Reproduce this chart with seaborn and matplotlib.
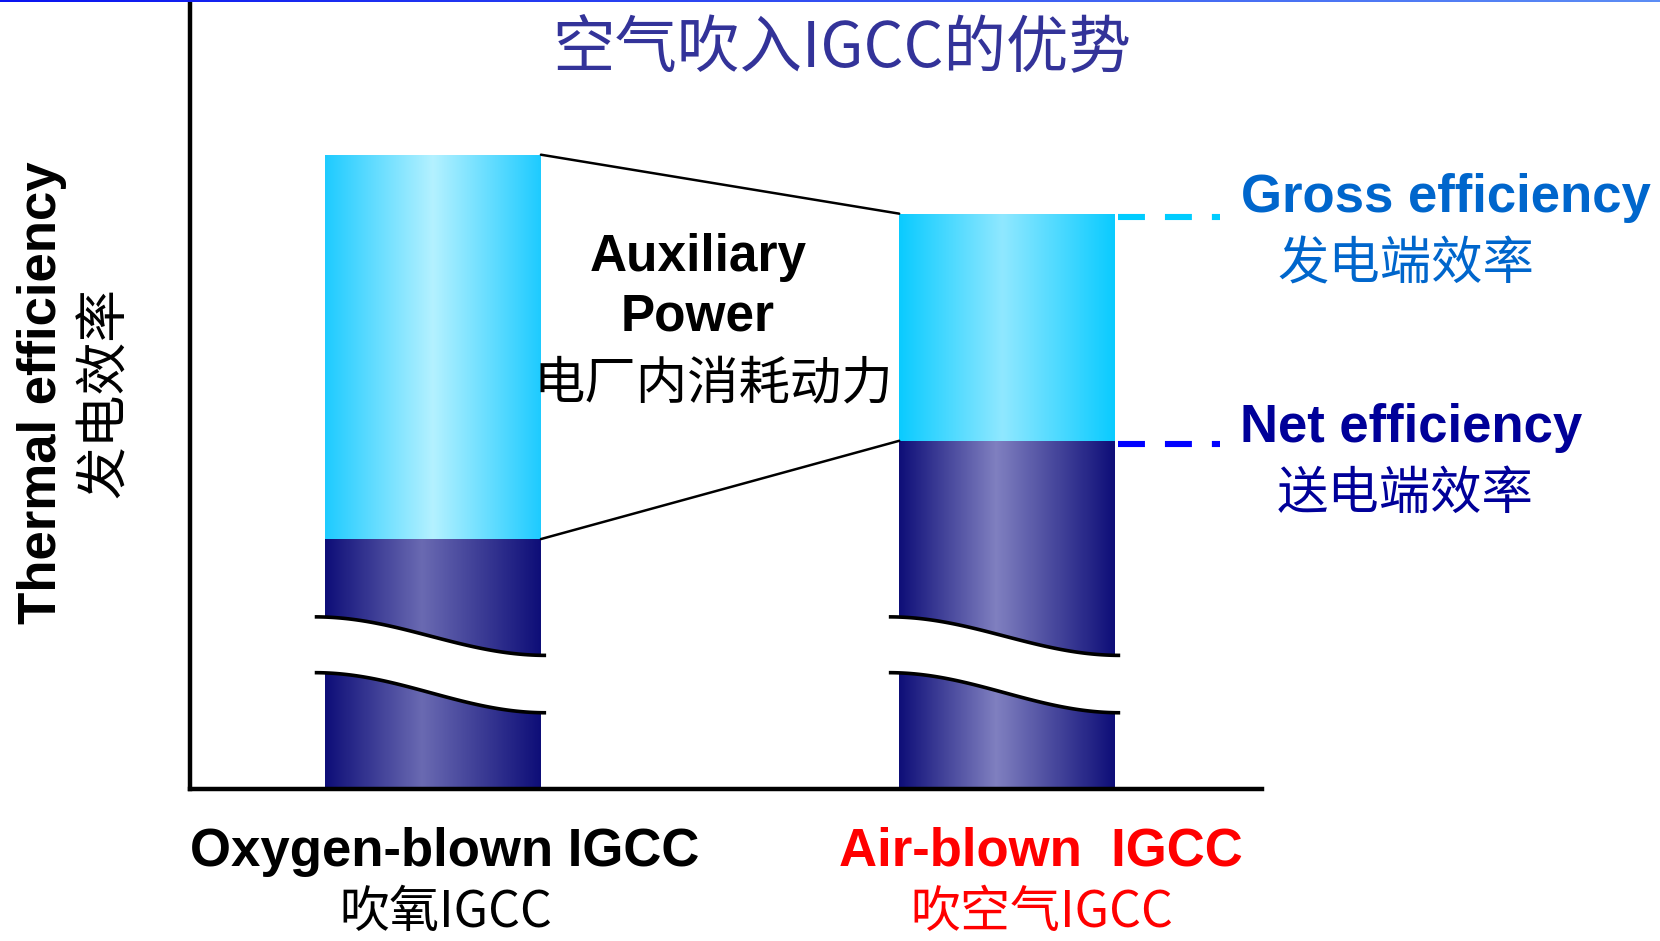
import numpy as np
import matplotlib
matplotlib.use("Agg")
import matplotlib.pyplot as plt
import matplotlib.transforms as mtransforms
from matplotlib.colors import LinearSegmentedColormap
import seaborn as sns

# Schematic efficiency levels (arbitrary units, axis runs 0-100)
categories = ["Oxygen-blown IGCC", "Air-blown IGCC"]
gross_efficiency = [80.7, 73.2]
net_efficiency = [31.8, 44.3]

title_text = "空气吹入IGCC的优势"
ylabel_en = "Thermal efficiency"
ylabel_cn = "发电效率"
aux_en = ["Auxiliary", "Power"]
aux_cn = "电厂内消耗动力"
gross_en, gross_cn = "Gross efficiency", "发电端效率"
net_en, net_cn = "Net efficiency", "送电端效率"
cat_cn = ["吹氧IGCC", "吹空气IGCC"]

sns.set_style("white")
plt.rcParams["lines.scale_dashes"] = False
plt.rcParams["text.color"] = "black"
CJK = ["Noto Sans CJK SC", "DejaVu Sans"]
LAT = ["Liberation Sans", "DejaVu Sans"]

W, H = 1660, 941
fig = plt.figure(figsize=(W / 100, H / 100), dpi=100)
fx = lambda px: px / W
fy = lambda py: 1 - py / H

ax = fig.add_axes([fx(190), fy(789), fx(1262) - fx(190), fy(3) - fy(789)])

bar_w = 0.376
sns.barplot(x=categories, y=gross_efficiency, width=bar_w, color="#00CCFF",
            ax=ax, zorder=2)
n0 = len(ax.patches)
sns.barplot(x=categories, y=net_efficiency, width=bar_w, color="#10107A",
            ax=ax, zorder=3)
gross_patches = ax.patches[:n0]
net_patches = ax.patches[n0:]

def h_gradient(patch, stops, zorder):
    x0, y0 = patch.get_x(), patch.get_y()
    w, h = patch.get_width(), patch.get_height()
    cmap = LinearSegmentedColormap.from_list("g", stops)
    grad = np.linspace(0, 1, 256).reshape(1, -1)
    im = ax.imshow(grad, cmap=cmap, extent=[x0, x0 + w, y0, y0 + h],
                   aspect="auto", zorder=zorder, interpolation="bilinear")
    im.set_clip_path(patch)
    patch.set_facecolor("none")
    patch.set_edgecolor("none")

light_stops = [
    [(0.0, "#1ECBFF"), (0.5, "#B4F1FF"), (1.0, "#1ECBFF")],
    [(0.0, "#0ACBFF"), (0.48, "#90E8FF"), (1.0, "#0ACBFF")],
]
dark_stops = [
    [(0.0, "#0E0E78"), (0.45, "#6A6AB2"), (1.0, "#0E0E78")],
    [(0.0, "#0E0E78"), (0.45, "#8080C0"), (1.0, "#0E0E78")],
]
for i, p in enumerate(gross_patches):
    h_gradient(p, light_stops[i], 2)
for i, p in enumerate(net_patches):
    h_gradient(p, dark_stops[i], 3)

# Axis-break bands across the lower part of each column
brk_upper = (21.9, 17.0)
brk_lower = (14.8, 9.7)
for p in net_patches:
    xa = p.get_x() - 0.018
    xb = p.get_x() + p.get_width() + 0.009
    xs = np.linspace(xa, xb, 100)
    s = (1 - np.cos(np.pi * (xs - xa) / (xb - xa))) / 2
    up = brk_upper[0] + (brk_upper[1] - brk_upper[0]) * s
    lo = brk_lower[0] + (brk_lower[1] - brk_lower[0]) * s
    ax.fill_between(xs, lo, up, color="white", zorder=5, lw=0)
    ax.plot(xs, up, color="black", lw=2.6, zorder=6, solid_capstyle="butt")
    ax.plot(xs, lo, color="black", lw=2.6, zorder=6, solid_capstyle="butt")

# Connectors showing the auxiliary power difference
g0, g1 = gross_patches
n0p, n1p = net_patches
ax.plot([g0.get_x() + g0.get_width(), g1.get_x()],
        [gross_efficiency[0], gross_efficiency[1]], color="black", lw=1.8, zorder=4)
ax.plot([n0p.get_x() + n0p.get_width(), n1p.get_x()],
        [net_efficiency[0], net_efficiency[1]], color="black", lw=1.8, zorder=4)

# Dashed leaders to the right-hand labels (hanging just below each level)
x_start = g1.get_x() + g1.get_width() + 0.005
x_end = 1.371
drop = mtransforms.offset_copy(ax.transData, fig=fig, x=0, y=-2.5, units="points")
ax.plot([x_start, x_end], [gross_efficiency[1]] * 2, color="#00CCFF", lw=4.4,
        linestyle=(0, (19.4, 14.4)), dash_capstyle="butt", zorder=4,
        transform=drop)
ax.plot([x_start, x_end], [net_efficiency[1]] * 2, color="#0000FF", lw=4.4,
        linestyle=(0, (19.4, 14.4)), dash_capstyle="butt", zorder=4,
        transform=drop)

ax.set_xlim(-0.4233, 1.444)
ax.set_ylim(0, 100)
ax.set_xticks([])
ax.set_yticks([])
ax.set_xlabel("")
ax.set_ylabel("")
for side in ("top", "right"):
    ax.spines[side].set_visible(False)
for side in ("left", "bottom"):
    ax.spines[side].set_color("black")
    ax.spines[side].set_linewidth(3.2)
ax.spines["bottom"].set_zorder(7)
ax.patch.set_alpha(0)

# Thin gradient rule along the top edge
top = fig.add_axes([0, fy(2.5), 1, 2.5 / H])
top.imshow(np.linspace(0, 1, 256).reshape(1, -1), aspect="auto",
           cmap=LinearSegmentedColormap.from_list("t", ["#0A14F0", "#5C8DF5"]))
top.set_axis_off()

# Title
fig.text(fx(842), fy(48), title_text, ha="center", va="center", fontsize=45,
         color="#333399", family=CJK)

# Vertical axis label
fig.text(fx(42), fy(393), ylabel_en, rotation=90, ha="center", va="center",
         fontsize=38, weight="bold", family=LAT, color="black")
fig.text(fx(104), fy(393), ylabel_cn, rotation=90, ha="center", va="center",
         fontsize=38, family=CJK, color="black")

# Auxiliary power annotation
fig.text(fx(698), fy(257), aux_en[0], ha="center", va="center", fontsize=37,
         weight="bold", family=LAT, color="black")
fig.text(fx(698), fy(317), aux_en[1], ha="center", va="center", fontsize=37,
         weight="bold", family=LAT, color="black")
fig.text(fx(713), fy(384), aux_cn, ha="center", va="center", fontsize=37,
         family=CJK, color="black")

# Right-hand labels
fig.text(fx(1241), fy(212), gross_en, ha="left", va="baseline", fontsize=38,
         weight="bold", family=LAT, color="#0066CC")
fig.text(fx(1277), fy(265), gross_cn, ha="left", va="center", fontsize=37,
         family=CJK, color="#0066CC")
fig.text(fx(1240), fy(442), net_en, ha="left", va="baseline", fontsize=38,
         weight="bold", family=LAT, color="#000099")
fig.text(fx(1277), fy(494), net_cn, ha="left", va="center", fontsize=37,
         family=CJK, color="#000099")

# Category labels
cat_colors = ["black", "#FF0000"]
cat_en = ["Oxygen-blown IGCC", "Air-blown  IGCC"]
cat_x = [445, 1041]
for i in range(2):
    fig.text(fx(cat_x[i]), fy(866), cat_en[i], ha="center", va="baseline",
             fontsize=38, weight="bold", family=LAT, color=cat_colors[i])
    fig.text(fx(cat_x[i] + 1), fy(913), cat_cn[i], ha="center", va="center",
             fontsize=36, family=CJK, color=cat_colors[i])

fig.savefig("out.png", dpi=100)
